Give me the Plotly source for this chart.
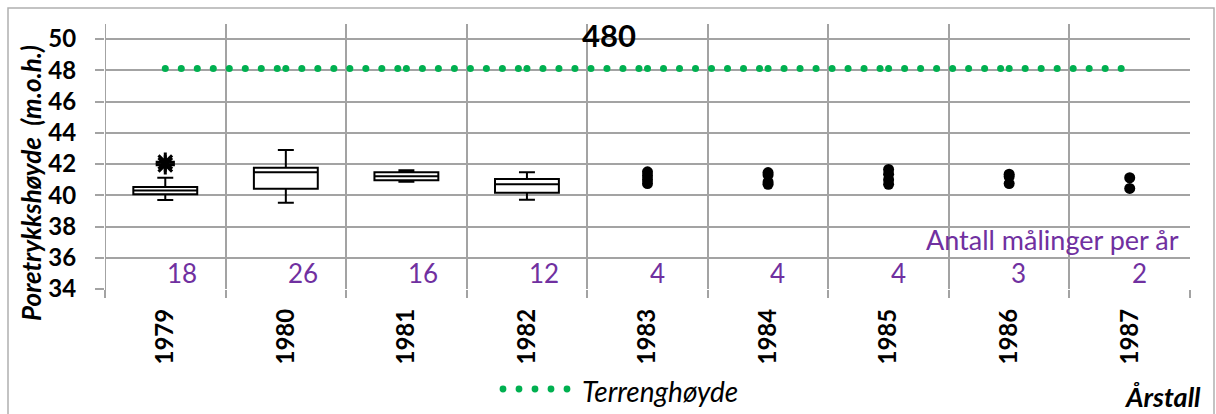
import plotly.graph_objects as go

# ---- data -------------------------------------------------------------
years = ["1979", "1980", "1981", "1982", "1983", "1984", "1985", "1986", "1987"]
counts = [18, 26, 16, 12, 4, 4, 4, 3, 2]
terrain = [48.12] * 9

# box statistics for the years with many readings
box_years = ["1979", "1980", "1981", "1982"]
box_q1 = [40.06, 40.42, 40.96, 40.16]
box_median = [40.30, 41.47, 41.21, 40.70]
box_q3 = [40.53, 41.76, 41.47, 41.04]
box_low = [39.70, 39.52, 40.87, 39.72]
box_high = [41.12, 42.90, 41.60, 41.47]

outlier_years = ["1979", "1979"]
outlier_values = [42.12, 41.95]

# individual readings for the years with few measurements
single_years = ["1983"] * 4 + ["1984"] * 4 + ["1985"] * 4 + ["1986"] * 3 + ["1987"] * 2
single_values = [41.50, 41.25, 41.00, 40.75,
                 41.45, 41.30, 40.85, 40.70,
                 41.65, 41.35, 41.00, 40.70,
                 41.35, 41.20, 40.75,
                 41.12, 40.44]

# ---- layout constants --------------------------------------------------
W, H = 1216, 414
ML, MR, MT, MB = 105, 26, 24, 125
PW, PH = W - ML - MR, H - MT - MB
GRID = "#a3a3a3"
PURPLE = "#7030A0"
GREEN = "#00B050"
FONT = "Lato"

pos = {y: i for i, y in enumerate(years)}


def px(x, y):
    """pixel position -> paper coordinates"""
    return (x - ML) / PW, (H - MB - y) / PH


fig = go.Figure()

# terrain level drawn as a dotted line that restarts at every year
dot_step = 16 / (PW / len(years))
tx, ty = [], []
for i in range(len(years) - 1):
    k = 0
    while k * dot_step < 1 - 1e-9:
        t = k * dot_step
        tx.append(i + t)
        ty.append(terrain[i] + (terrain[i + 1] - terrain[i]) * t)
        k += 1
fig.add_trace(go.Scatter(
    x=tx, y=ty, mode="markers", name="Terrenghøyde",
    marker=dict(color=GREEN, size=7), showlegend=False, hoverinfo="skip"))

fig.add_trace(go.Box(
    x=[pos[y] for y in box_years],
    q1=box_q1, median=box_median, q3=box_q3,
    lowerfence=box_low, upperfence=box_high,
    width=0.53, whiskerwidth=0.25,
    fillcolor="white", line=dict(color="black", width=2),
    boxpoints=False, showlegend=False))

fig.add_trace(go.Scatter(
    x=[pos[y] for y in outlier_years], y=outlier_values, mode="markers",
    marker=dict(symbol="asterisk-open", size=16, color="black",
                line=dict(color="black", width=3)),
    showlegend=False))

fig.add_trace(go.Scatter(
    x=[pos[y] for y in single_years], y=single_values, mode="markers",
    marker=dict(color="black", size=11), showlegend=False))

# ---- text -------------------------------------------------------------
ann = []
for i, c in enumerate(counts):
    ann.append(dict(x=i, y=35.02, xref="x", yref="y", text=str(c),
                    showarrow=False, xanchor="left", yanchor="middle",
                    font=dict(family=FONT, size=26, color=PURPLE)))

x0, y0 = px(1181, 239)
ann.append(dict(x=x0, y=y0, xref="paper", yref="paper",
                text="Antall målinger per år", showarrow=False,
                xanchor="right", yanchor="middle",
                font=dict(family=FONT, size=27, color=PURPLE)))

x0, y0 = px(31, 183)
ann.append(dict(x=x0, y=y0, xref="paper", yref="paper",
                text="Poretrykkshøyde  (m.o.h.)", showarrow=False,
                textangle=-90, xanchor="center", yanchor="middle",
                font=dict(family=FONT, size=26, color="black",
                          style="italic", weight="bold")))

x0, y0 = px(580, 391)
ann.append(dict(x=x0, y=y0, xref="paper", yref="paper",
                text="Terrenghøyde", showarrow=False,
                xanchor="left", yanchor="middle",
                font=dict(family=FONT, size=28, color="black", style="italic")))

x0, y0 = px(1203, 396)
ann.append(dict(x=x0, y=y0, xref="paper", yref="paper",
                text="Årstall", showarrow=False,
                xanchor="right", yanchor="middle",
                font=dict(family=FONT, size=27, color="black",
                          style="italic", weight="bold")))

# legend key: five terrain dots
shapes = []
for cx in [503, 519, 535, 551, 567]:
    a0, b0 = px(cx - 3.4, 389 + 3.4)
    a1, b1 = px(cx + 3.4, 389 - 3.4)
    shapes.append(dict(type="circle", xref="paper", yref="paper",
                       x0=a0, y0=b0, x1=a1, y1=b1,
                       fillcolor=GREEN, line=dict(width=0)))

# chart frame
a0, b0 = px(8, 430)
a1, b1 = px(1214, 8)
shapes.append(dict(type="rect", xref="paper", yref="paper",
                   x0=a0, y0=b0, x1=a1, y1=b1,
                   line=dict(color="#b0b0b0", width=1.5), layer="below"))

# left edge of the plotting area
shapes.append(dict(type="line", xref="x", yref="paper",
                   x0=-0.5, x1=-0.5, y0=-8 / PH, y1=1,
                   line=dict(color=GRID, width=2), layer="below"))

fig.update_layout(
    width=W, height=H,
    margin=dict(l=ML, r=MR, t=MT, b=MB, autoexpand=False),
    paper_bgcolor="white", plot_bgcolor="white",
    title=dict(text="480", x=609 / W, xref="container", xanchor="center",
               y=1 - 36 / H, yref="container", yanchor="middle",
               font=dict(family=FONT, size=31, color="black", weight="bold")),
    annotations=ann, shapes=shapes,
    showlegend=False,
    xaxis=dict(range=[-0.5, len(years) - 0.5],
               tickvals=[i - 0.5 for i in range(len(years) + 1)],
               ticktext=[""] * (len(years) + 1),
               showgrid=True, gridcolor=GRID, gridwidth=2,
               ticks="outside", ticklen=8, tickwidth=2, tickcolor=GRID,
               zeroline=False, showline=False, fixedrange=True),
    xaxis2=dict(overlaying="x", matches="x", side="bottom",
                range=[-0.5, len(years) - 0.5],
                tickvals=list(range(len(years))), ticktext=years,
                tickangle=-90, ticks="", showgrid=False, zeroline=False,
                ticklabelstandoff=14,
                tickfont=dict(family=FONT, size=24, color="black", weight="bold")),
    yaxis=dict(range=[34, 34 + PH / 15.625],
               tickvals=list(range(34, 51, 2)),
               showgrid=True, gridcolor=GRID, gridwidth=2,
               ticks="outside", ticklen=9, tickwidth=2, tickcolor=GRID,
               ticklabelstandoff=14,
               zeroline=False, showline=False,
               tickfont=dict(family=FONT, size=24, color="black", weight="bold")),
)

# a hidden trace keeps the label axis active
fig.add_trace(go.Scatter(x=[0], y=[34], xaxis="x2", mode="markers",
                         marker=dict(opacity=0), showlegend=False,
                         hoverinfo="skip"))

fig.write_html("out.html")
